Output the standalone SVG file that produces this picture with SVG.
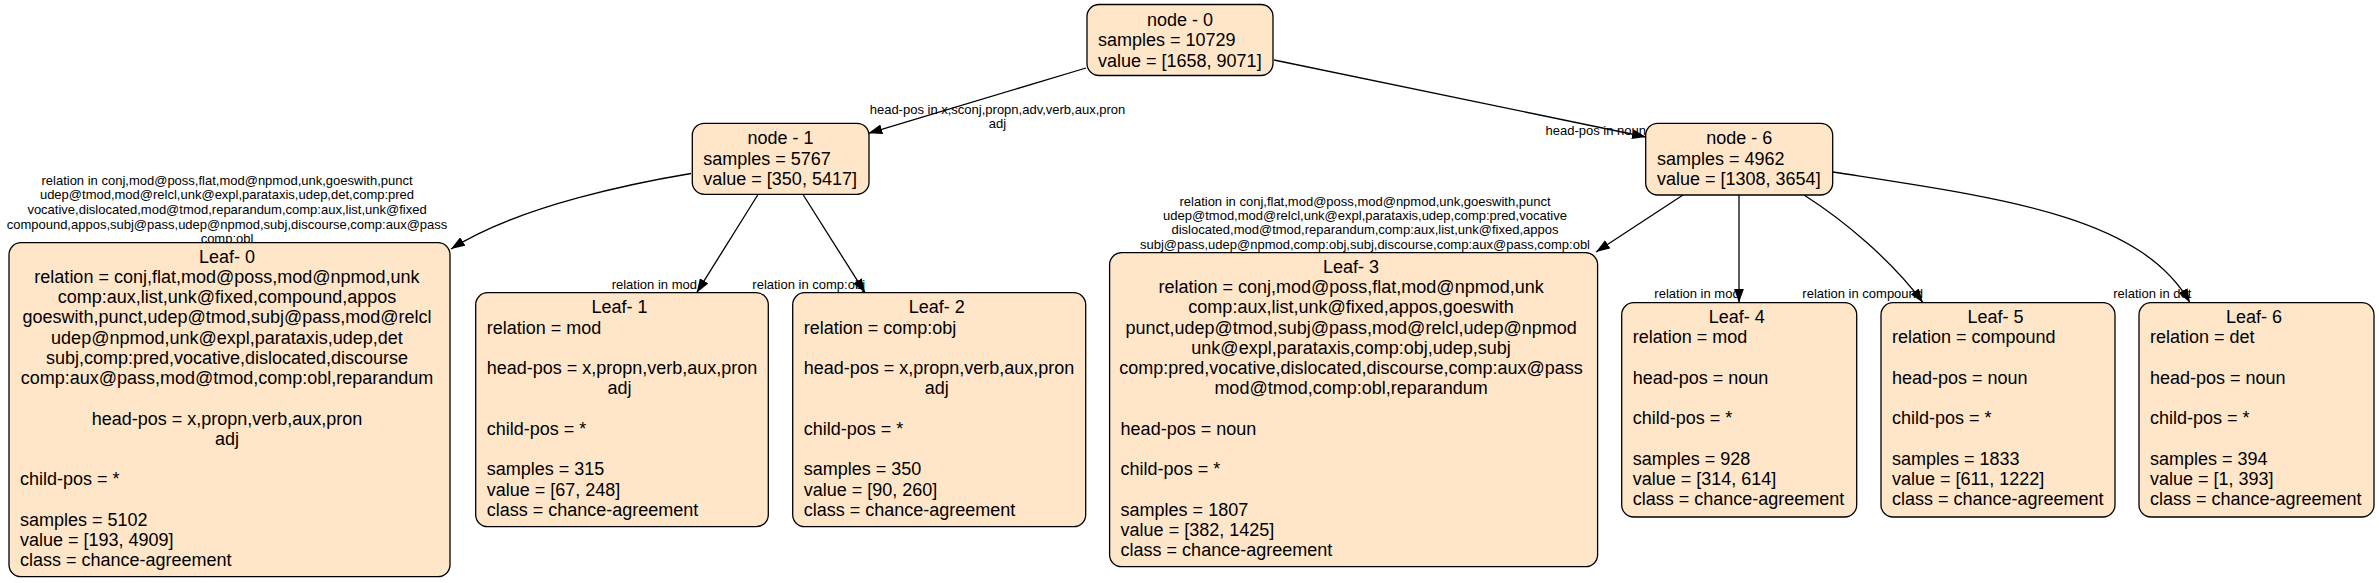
<svg xmlns="http://www.w3.org/2000/svg" width="2379" height="583" viewBox="0 0 2379 583">
<defs>
<style>
.box{fill:#ffe6c9;stroke:#000;stroke-width:1.3}
.t{font-family:"Liberation Sans",Arial,Helvetica,sans-serif;font-size:18px;fill:#000}
.c{text-anchor:middle}
.l{text-anchor:start}
.e{fill:none;stroke:#000;stroke-width:1.3;marker-end:url(#ah)}
.lbl{font-family:"Liberation Sans",Arial,Helvetica,sans-serif;font-size:13px;fill:#000;text-anchor:middle}
</style>
<marker id="ah" markerUnits="userSpaceOnUse" markerWidth="14" markerHeight="10" viewBox="0 0 14 10" refX="14" refY="5" orient="auto">
<path d="M0,0 L14,5 L0,10 Z" fill="#000"/>
</marker>
</defs>
<rect width="2379" height="583" fill="#fff"/>

<g id="edges">
<path class="e" d="M1086,68 L868.3,133.3"/>
<path class="e" d="M1274,60 L1646,137"/>
<path class="e" d="M691,173.5 C640,182 520,205 451,249"/>
<path class="e" d="M757.7,195 L696.7,292.7"/>
<path class="e" d="M803.3,195 L865,292.7"/>
<path class="e" d="M1683,195 L1596,252"/>
<path class="e" d="M1739,195 L1739,302.7"/>
<path class="e" d="M1804,195 C1845,221 1893,262 1923,302.7"/>
<path class="e" d="M1833,172 C2000,198 2140,215 2190,302.7"/>
<text class="lbl"><tspan x="997.5" y="114.3">head-pos in x,sconj,propn,adv,verb,aux,pron</tspan><tspan x="997.5" y="128.3">adj</tspan></text>
<text class="lbl" x="1595.8" y="135">head-pos in noun</text>
<text class="lbl"><tspan x="227" y="184.5">relation in conj,mod@poss,flat,mod@npmod,unk,goeswith,punct</tspan><tspan x="227" y="199.2">udep@tmod,mod@relcl,unk@expl,parataxis,udep,det,comp:pred</tspan><tspan x="227" y="213.9">vocative,dislocated,mod@tmod,reparandum,comp:aux,list,unk@fixed</tspan><tspan x="227" y="228.6">compound,appos,subj@pass,udep@npmod,subj,discourse,comp:aux@pass</tspan><tspan x="227" y="243.3">comp:obl</tspan></text>
<text class="lbl" x="654.3" y="289">relation in mod</text>
<text class="lbl" x="808.7" y="289">relation in comp:obj</text>
<text class="lbl"><tspan x="1365" y="205.5">relation in conj,flat,mod@poss,mod@npmod,unk,goeswith,punct</tspan><tspan x="1365" y="219.9">udep@tmod,mod@relcl,unk@expl,parataxis,udep,comp:pred,vocative</tspan><tspan x="1365" y="234.3">dislocated,mod@tmod,reparandum,comp:aux,list,unk@fixed,appos</tspan><tspan x="1365" y="248.7">subj@pass,udep@npmod,comp:obj,subj,discourse,comp:aux@pass,comp:obl</tspan></text>
<text class="lbl" x="1697" y="298">relation in mod</text>
<text class="lbl" x="1862.7" y="298">relation in compound</text>
<text class="lbl" x="2152.3" y="298">relation in det</text>
</g>

<g id="node0">
<rect class="box" x="1087" y="4.5" width="186" height="71" rx="12"/>
<text class="t"><tspan class="c" x="1180" y="26">node - 0</tspan><tspan class="l" x="1098" y="46.25">samples = 10729</tspan><tspan class="l" x="1098" y="66.5">value = [1658, 9071]</tspan></text>
</g>

<g id="node1">
<rect class="box" x="692.3" y="123.3" width="176.7" height="71" rx="12"/>
<text class="t"><tspan class="c" x="780.6" y="144.3">node - 1</tspan><tspan class="l" x="703.3" y="164.5">samples = 5767</tspan><tspan class="l" x="703.3" y="184.8">value = [350, 5417]</tspan></text>
</g>

<g id="node6">
<rect class="box" x="1645.7" y="123.3" width="187" height="71.7" rx="12"/>
<text class="t"><tspan class="c" x="1739.2" y="144.3">node - 6</tspan><tspan class="l" x="1657" y="164.5">samples = 4962</tspan><tspan class="l" x="1657" y="184.8">value = [1308, 3654]</tspan></text>
</g>

<g id="leaf0">
<rect class="box" x="9" y="242.7" width="441" height="334" rx="12"/>
<text class="t">
<tspan class="c" x="229.5" y="262.7">Leaf- 0</tspan>
<tspan class="c" x="229.5" y="282.95">relation = conj,flat,mod@poss,mod@npmod,unk</tspan>
<tspan class="c" x="229.5" y="303.2">comp:aux,list,unk@fixed,compound,appos</tspan>
<tspan class="c" x="229.5" y="323.45">goeswith,punct,udep@tmod,subj@pass,mod@relcl</tspan>
<tspan class="c" x="229.5" y="343.7">udep@npmod,unk@expl,parataxis,udep,det</tspan>
<tspan class="c" x="229.5" y="363.95">subj,comp:pred,vocative,dislocated,discourse</tspan>
<tspan class="c" x="229.5" y="384.2">comp:aux@pass,mod@tmod,comp:obl,reparandum</tspan>
<tspan class="c" x="229.5" y="424.7">head-pos = x,propn,verb,aux,pron</tspan>
<tspan class="c" x="229.5" y="444.95">adj</tspan>
<tspan class="l" x="20" y="485.45">child-pos = *</tspan>
<tspan class="l" x="20" y="525.95">samples = 5102</tspan>
<tspan class="l" x="20" y="546.2">value = [193, 4909]</tspan>
<tspan class="l" x="20" y="566.45">class = chance-agreement</tspan>
</text>
</g>

<g id="leaf1">
<rect class="box" x="475.7" y="292.7" width="292.6" height="234" rx="12"/>
<text class="t">
<tspan class="c" x="622" y="313.3">Leaf- 1</tspan>
<tspan class="l" x="486.7" y="333.55">relation = mod</tspan>
<tspan class="l" x="486.7" y="374.05">head-pos = x,propn,verb,aux,pron</tspan>
<tspan class="c" x="622" y="394.3">adj</tspan>
<tspan class="l" x="486.7" y="434.8">child-pos = *</tspan>
<tspan class="l" x="486.7" y="475.3">samples = 315</tspan>
<tspan class="l" x="486.7" y="495.55">value = [67, 248]</tspan>
<tspan class="l" x="486.7" y="515.8">class = chance-agreement</tspan>
</text>
</g>

<g id="leaf2">
<rect class="box" x="792.7" y="292.7" width="293" height="234" rx="12"/>
<text class="t">
<tspan class="c" x="939.2" y="313.3">Leaf- 2</tspan>
<tspan class="l" x="803.7" y="333.55">relation = comp:obj</tspan>
<tspan class="l" x="803.7" y="374.05">head-pos = x,propn,verb,aux,pron</tspan>
<tspan class="c" x="939.2" y="394.3">adj</tspan>
<tspan class="l" x="803.7" y="434.8">child-pos = *</tspan>
<tspan class="l" x="803.7" y="475.3">samples = 350</tspan>
<tspan class="l" x="803.7" y="495.55">value = [90, 260]</tspan>
<tspan class="l" x="803.7" y="515.8">class = chance-agreement</tspan>
</text>
</g>

<g id="leaf3">
<rect class="box" x="1109.6" y="252.7" width="488" height="314" rx="12"/>
<text class="t">
<tspan class="c" x="1353.6" y="272.8">Leaf- 3</tspan>
<tspan class="c" x="1353.6" y="293.05">relation = conj,mod@poss,flat,mod@npmod,unk</tspan>
<tspan class="c" x="1353.6" y="313.3">comp:aux,list,unk@fixed,appos,goeswith</tspan>
<tspan class="c" x="1353.6" y="333.55">punct,udep@tmod,subj@pass,mod@relcl,udep@npmod</tspan>
<tspan class="c" x="1353.6" y="353.8">unk@expl,parataxis,comp:obj,udep,subj</tspan>
<tspan class="c" x="1353.6" y="374.05">comp:pred,vocative,dislocated,discourse,comp:aux@pass</tspan>
<tspan class="c" x="1353.6" y="394.3">mod@tmod,comp:obl,reparandum</tspan>
<tspan class="l" x="1120.6" y="434.8">head-pos = noun</tspan>
<tspan class="l" x="1120.6" y="475.3">child-pos = *</tspan>
<tspan class="l" x="1120.6" y="515.8">samples = 1807</tspan>
<tspan class="l" x="1120.6" y="536.05">value = [382, 1425]</tspan>
<tspan class="l" x="1120.6" y="556.3">class = chance-agreement</tspan>
</text>
</g>

<g id="leaf4">
<rect class="box" x="1621.7" y="302.7" width="235" height="214.3" rx="12"/>
<text class="t">
<tspan class="c" x="1739.2" y="323.2">Leaf- 4</tspan>
<tspan class="l" x="1632.7" y="343.45">relation = mod</tspan>
<tspan class="l" x="1632.7" y="383.95">head-pos = noun</tspan>
<tspan class="l" x="1632.7" y="424.45">child-pos = *</tspan>
<tspan class="l" x="1632.7" y="464.95">samples = 928</tspan>
<tspan class="l" x="1632.7" y="485.2">value = [314, 614]</tspan>
<tspan class="l" x="1632.7" y="505.45">class = chance-agreement</tspan>
</text>
</g>

<g id="leaf5">
<rect class="box" x="1881" y="302.7" width="234" height="214.3" rx="12"/>
<text class="t">
<tspan class="c" x="1998" y="323.2">Leaf- 5</tspan>
<tspan class="l" x="1892" y="343.45">relation = compound</tspan>
<tspan class="l" x="1892" y="383.95">head-pos = noun</tspan>
<tspan class="l" x="1892" y="424.45">child-pos = *</tspan>
<tspan class="l" x="1892" y="464.95">samples = 1833</tspan>
<tspan class="l" x="1892" y="485.2">value = [611, 1222]</tspan>
<tspan class="l" x="1892" y="505.45">class = chance-agreement</tspan>
</text>
</g>

<g id="leaf6">
<rect class="box" x="2139" y="302.7" width="235" height="214.3" rx="12"/>
<text class="t">
<tspan class="c" x="2256.5" y="323.2">Leaf- 6</tspan>
<tspan class="l" x="2150" y="343.45">relation = det</tspan>
<tspan class="l" x="2150" y="383.95">head-pos = noun</tspan>
<tspan class="l" x="2150" y="424.45">child-pos = *</tspan>
<tspan class="l" x="2150" y="464.95">samples = 394</tspan>
<tspan class="l" x="2150" y="485.2">value = [1, 393]</tspan>
<tspan class="l" x="2150" y="505.45">class = chance-agreement</tspan>
</text>
</g>
</svg>
